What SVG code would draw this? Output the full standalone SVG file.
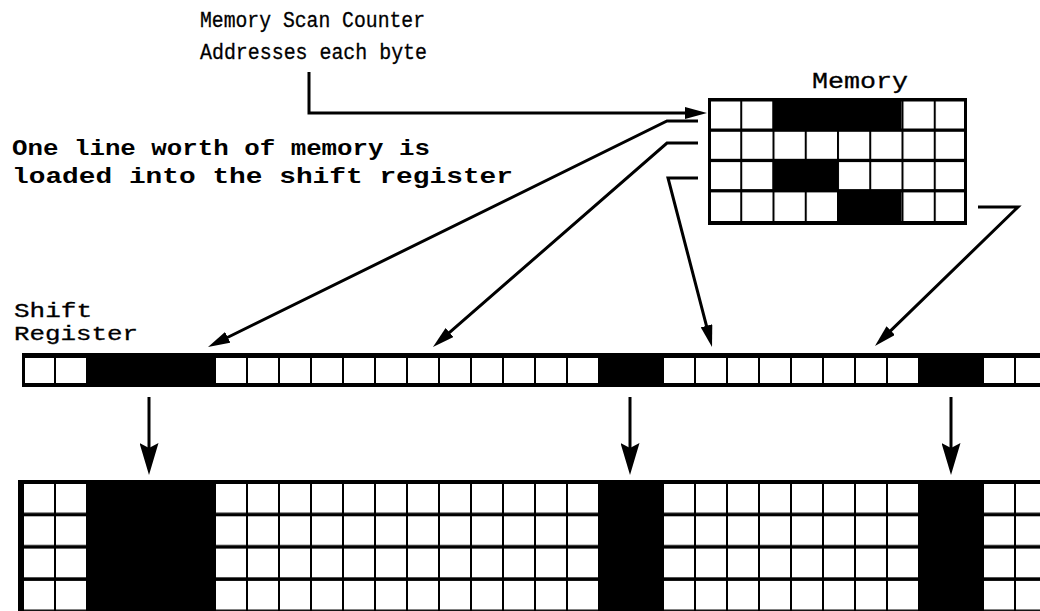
<svg xmlns="http://www.w3.org/2000/svg" width="1040" height="611" viewBox="0 0 1040 611">
<style>
.lbl{font-family:"Liberation Mono","Courier New",monospace;fill:#000;}
.typ{stroke:#000;stroke-width:0.3;}
.conn{fill:none;stroke:#000;stroke-width:3;stroke-linejoin:miter;}
.blk{fill:#000;}
</style>
<defs>
<marker id="ah" viewBox="0 0 22 12" refX="14" refY="6" markerWidth="22" markerHeight="12" markerUnits="userSpaceOnUse" orient="auto">
<path d="M0,0 L22,6 L0,12 z" fill="#000"/>
</marker>
<marker id="ahv" viewBox="0 0 32 19" refX="22" refY="9.5" markerWidth="32" markerHeight="19" markerUnits="userSpaceOnUse" orient="auto">
<path d="M0,0 L32,9.5 L0,19 L5,9.5 z" fill="#000"/>
</marker>
<pattern id="regcell" patternUnits="userSpaceOnUse" x="22" y="0" width="32" height="611">
<rect x="2" y="0" width="30" height="611" fill="#fff"/>
</pattern>
<pattern id="gridcell" patternUnits="userSpaceOnUse" x="22" y="484" width="32" height="32.3">
<rect x="2" y="0" width="30" height="28.7" fill="#fff"/>
</pattern>
<pattern id="memcell" patternUnits="userSpaceOnUse" x="708" y="0" width="32.25" height="611">
<rect x="2" y="0" width="30.25" height="611" fill="#fff"/>
</pattern>
</defs>
<rect width="1040" height="611" fill="#fff"/>

<g id="label-scan-counter">
<text class="lbl typ" x="200" y="27" font-size="22" textLength="225" lengthAdjust="spacingAndGlyphs">Memory Scan Counter</text>
<text class="lbl typ" x="200" y="59" font-size="22" textLength="227" lengthAdjust="spacingAndGlyphs">Addresses each byte</text>
</g>

<g id="label-one-line">
<text class="lbl" x="12" y="155" font-size="22" font-weight="bold" textLength="418" lengthAdjust="spacingAndGlyphs">One line worth of memory is</text>
<text class="lbl" x="12" y="183" font-size="22" font-weight="bold" textLength="501" lengthAdjust="spacingAndGlyphs">loaded into the shift register</text>
</g>

<g id="label-shift-register">
<text class="lbl typ" x="14" y="317" font-size="19.5" textLength="78" lengthAdjust="spacingAndGlyphs">Shift</text>
<text class="lbl typ" x="14" y="340" font-size="19.5" textLength="124" lengthAdjust="spacingAndGlyphs">Register</text>
</g>

<g id="memory">
<text class="lbl typ" x="812" y="88" font-size="22" textLength="96" lengthAdjust="spacingAndGlyphs">Memory</text>
<rect class="blk" x="708" y="98" width="259" height="127"/>
<g fill="url(#memcell)">
<rect x="711" y="101.5" width="61.5" height="27"/>
<rect x="901.5" y="101.5" width="62.5" height="27"/>
<rect x="711" y="131.8" width="253" height="27"/>
<rect x="711" y="162.1" width="61.5" height="27"/>
<rect x="837" y="162.1" width="127" height="27"/>
<rect x="711" y="192.4" width="126" height="28.6"/>
<rect x="901.5" y="192.4" width="62.5" height="28.6"/>
</g>
</g>

<g id="shift-register">
<rect class="blk" x="22" y="353" width="1030" height="34"/>
<g fill="url(#regcell)">
<rect x="25" y="358" width="61" height="25"/>
<rect x="214" y="358" width="384" height="25"/>
<rect x="662" y="358" width="256" height="25"/>
<rect x="982" y="358" width="70" height="25"/>
</g>
</g>

<g id="display-grid">
<rect class="blk" x="18" y="480" width="1034" height="135"/>
<g fill="url(#gridcell)">
<rect x="23" y="484" width="63" height="130"/>
<rect x="214" y="484" width="384" height="130"/>
<rect x="662" y="484" width="256" height="130"/>
<rect x="982" y="484" width="70" height="130"/>
</g>
</g>

<g id="connectors">
<path class="conn" d="M309,72 V113 H699" marker-end="url(#ah)"/>
<path class="conn" d="M698,121 H667 L215.2,343.5" marker-end="url(#ah)"/>
<path class="conn" d="M698,143 H667 L439,341.7" marker-end="url(#ah)"/>
<path class="conn" d="M698,178 H668 L710,339.3" marker-end="url(#ah)"/>
<path class="conn" d="M978,207 H1018 L880.7,340.4" marker-end="url(#ah)"/>
<path class="conn" d="M149,397 V465" marker-end="url(#ahv)"/>
<path class="conn" d="M630,397 V465" marker-end="url(#ahv)"/>
<path class="conn" d="M951,397 V465" marker-end="url(#ahv)"/>
</g>
</svg>
